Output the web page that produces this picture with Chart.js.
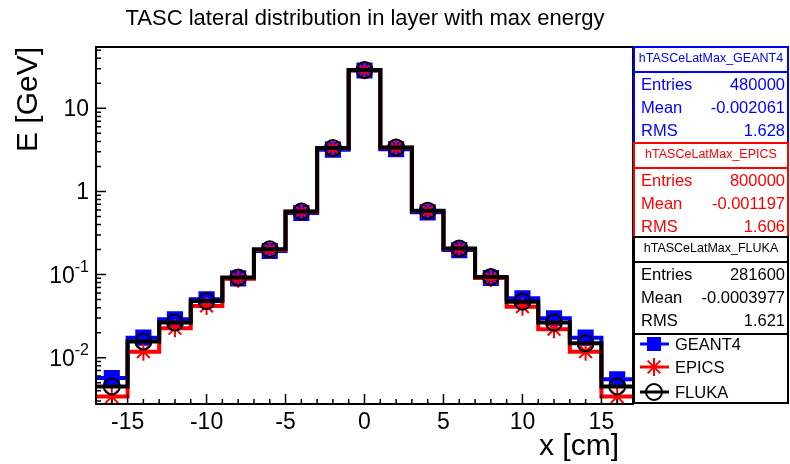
<!DOCTYPE html>
<html>
<head>
<meta charset="utf-8">
<script src="https://cdn.jsdelivr.net/npm/chart.js@4.4.1/dist/chart.umd.min.js"></script>
<style>
  html, body { margin: 0; padding: 0; background: #fff; }
  #wrap { width: 790px; height: 464px; }
</style>
</head>
<body>
<div id="wrap"><canvas id="grafico" width="790" height="464"></canvas></div>
<script>
// bins: 2 cm wide, from -17 to 17
const binEdges = [-17, -15, -13, -11, -9, -7, -5, -3, -1, 1, 3, 5, 7, 9, 11, 13, 15, 17];
const binCenters = [-16, -14, -12, -10, -8, -6, -4, -2, 0, 2, 4, 6, 8, 10, 12, 14, 16];

// energy per bin [GeV]
const geant4 = [0.0057, 0.0174, 0.029, 0.0505, 0.090, 0.192, 0.55, 3.18, 28.5, 3.22, 0.56, 0.197, 0.091, 0.0519, 0.0298, 0.0174, 0.0055];
const epics  = [0.0034, 0.0118, 0.0226, 0.0419, 0.089, 0.198, 0.57, 3.30, 28.7, 3.35, 0.58, 0.203, 0.091, 0.0411, 0.0220, 0.0118, 0.0034];
const fluka  = [0.0045, 0.0156, 0.0264, 0.048, 0.092, 0.201, 0.574, 3.33, 28.9, 3.38, 0.586, 0.206, 0.0935, 0.0472, 0.0264, 0.0149, 0.0045];

const xTickValues = [-15, -10, -5, 0, 5, 10, 15];
const xTickLabels = ['-15', '-10', '-5', '0', '5', '10', '15'];
const yTickValues = [0.01, 0.1, 1, 10];
const yTickBase = ['10', '10', '1', '10'];
const yTickExp  = ['-2', '-1', '', ''];

// stats boxes
const statNames   = ['hTASCeLatMax_GEANT4', 'hTASCeLatMax_EPICS', 'hTASCeLatMax_FLUKA'];
const statEntries = ['480000', '800000', '281600'];
const statMeans   = ['-0.002061', '-0.001197', '-0.0003977'];
const statRms     = ['1.628', '1.606', '1.621'];
const seriesNames = ['GEANT4', 'EPICS', 'FLUKA'];
const seriesColors = ['#0000ff', '#ff0000', '#000000'];

const FONT = "'Liberation Sans', Arial, Helvetica, sans-serif";

function passos(valores) {
    // one point per bin edge, last edge repeats the last bin
    return binEdges.map((x, i) => ({ x: x, y: valores[Math.min(i, valores.length - 1)] }));
}

function pontos(valores) {
    return binCenters.map((x, i) => ({ x: x, y: valores[i] }));
}

function marcador(ctx, estilo, cor, x, y) {
    ctx.save();
    ctx.strokeStyle = cor;
    ctx.fillStyle = cor;
    if (estilo === 'rect') {
        ctx.fillRect(x - 7, y - 7, 14, 14);
    } else if (estilo === 'star') {
        ctx.lineWidth = 2;
        const r = 9, d = r * Math.SQRT1_2;
        ctx.beginPath();
        ctx.moveTo(x - r, y); ctx.lineTo(x + r, y);
        ctx.moveTo(x, y - r); ctx.lineTo(x, y + r);
        ctx.moveTo(x - d, y - d); ctx.lineTo(x + d, y + d);
        ctx.moveTo(x - d, y + d); ctx.lineTo(x + d, y - d);
        ctx.stroke();
    } else {
        ctx.lineWidth = 2;
        ctx.beginPath();
        ctx.arc(x, y, 8, 0, Math.PI * 2);
        ctx.stroke();
    }
    ctx.restore();
}

const rootFrame = {
    id: 'rootFrame',
    afterDraw(chart) {
        const ctx = chart.ctx;
        const a = chart.chartArea;
        const xs = chart.scales.x;
        const ys = chart.scales.y;
        ctx.save();

        // frame
        ctx.strokeStyle = '#000';
        ctx.lineWidth = 2;
        ctx.strokeRect(a.left, a.top, a.right - a.left, a.bottom - a.top);

        // x ticks, inside the frame
        ctx.lineWidth = 1.5;
        ctx.beginPath();
        for (let v = -17; v <= 17; v++) {
            const px = xs.getPixelForValue(v);
            const len = (v % 5 === 0) ? 10 : 5;
            ctx.moveTo(px, a.bottom);
            ctx.lineTo(px, a.bottom - len);
        }
        // y ticks (log)
        for (let d = -3; d <= 1; d++) {
            for (let m = 1; m <= 9; m++) {
                const v = m * Math.pow(10, d);
                if (v < ys.min || v > ys.max) continue;
                const py = ys.getPixelForValue(v);
                const len = (m === 1) ? 10 : 5;
                ctx.moveTo(a.left, py);
                ctx.lineTo(a.left + len, py);
            }
        }
        ctx.stroke();

        // x tick labels
        ctx.fillStyle = '#000';
        ctx.font = '23px ' + FONT;
        ctx.textAlign = 'center';
        ctx.textBaseline = 'alphabetic';
        xTickValues.forEach((v, i) => {
            ctx.fillText(xTickLabels[i], xs.getPixelForValue(v), 429);
        });

        // y tick labels, with exponents
        yTickValues.forEach((v, i) => {
            const py = ys.getPixelForValue(v);
            const right = 89;
            ctx.textAlign = 'right';
            if (yTickExp[i]) {
                ctx.font = '16px ' + FONT;
                ctx.textBaseline = 'alphabetic';
                const w = ctx.measureText(yTickExp[i]).width;
                ctx.fillText(yTickExp[i], right, py - 3);
                ctx.font = '23px ' + FONT;
                ctx.textBaseline = 'middle';
                ctx.fillText(yTickBase[i], right - w, py + 2);
            } else {
                ctx.font = '23px ' + FONT;
                ctx.textBaseline = 'middle';
                ctx.fillText(yTickBase[i], right, py + 1);
            }
        });

        // axis titles
        ctx.font = '30px ' + FONT;
        ctx.textBaseline = 'alphabetic';
        ctx.textAlign = 'right';
        ctx.fillText('x [cm]', 619, 455);
        ctx.save();
        ctx.translate(37, a.top);
        ctx.rotate(-Math.PI / 2);
        ctx.textAlign = 'right';
        ctx.fillText('E [GeV]', 0, 0);
        ctx.restore();

        // title
        ctx.font = '22px ' + FONT;
        ctx.textAlign = 'center';
        ctx.fillText('TASC lateral distribution in layer with max energy', 365, 25);

        // stats boxes
        const bx = 634, bw = 154;
        const tops = [47, 143, 237];
        const heights = [96, 94, 97];
        statNames.forEach((nome, i) => {
            const top = tops[i];
            const cor = seriesColors[i];
            ctx.fillStyle = '#fff';
            ctx.fillRect(bx, top, bw, heights[i]);
            ctx.strokeStyle = cor;
            ctx.lineWidth = 2;
            ctx.strokeRect(bx, top, bw, heights[i]);
            ctx.beginPath();
            ctx.moveTo(bx, top + 25);
            ctx.lineTo(bx + bw, top + 25);
            ctx.stroke();
            ctx.fillStyle = cor;
            ctx.font = '12.5px ' + FONT;
            ctx.textAlign = 'center';
            ctx.textBaseline = 'middle';
            ctx.fillText(nome, bx + bw / 2, top + 12);
            ctx.font = '16.5px ' + FONT;
            const linhas = [['Entries', statEntries[i]], ['Mean', statMeans[i]], ['RMS', statRms[i]]];
            linhas.forEach((l, j) => {
                const y = top + 38 + j * 23;
                ctx.textAlign = 'left';
                ctx.fillText(l[0], bx + 7, y);
                ctx.textAlign = 'right';
                ctx.fillText(l[1], bx + bw - 3, y);
            });
        });

        // legend
        ctx.fillStyle = '#fff';
        ctx.fillRect(bx, 334, bw, 69);
        ctx.strokeStyle = '#000';
        ctx.lineWidth = 2;
        ctx.strokeRect(bx, 334, bw, 69);
        const estilos = ['rect', 'star', 'circle'];
        const ly = [344, 367, 392];
        seriesNames.forEach((nome, i) => {
            ctx.strokeStyle = seriesColors[i];
            ctx.lineWidth = 3;
            ctx.beginPath();
            ctx.moveTo(640, ly[i]);
            ctx.lineTo(669, ly[i]);
            ctx.stroke();
            marcador(ctx, estilos[i], seriesColors[i], 654, ly[i]);
            ctx.fillStyle = '#000';
            ctx.font = '16.5px ' + FONT;
            ctx.textAlign = 'left';
            ctx.textBaseline = 'middle';
            ctx.fillText(nome, 675, ly[i] + 1);
        });

        ctx.restore();
    }
};

function linha(label, valores, cor, ordem) {
    return {
        label: label,
        data: passos(valores),
        borderColor: cor,
        borderWidth: 4,
        stepped: true,
        pointRadius: 0,
        pointHoverRadius: 0,
        fill: false,
        order: ordem
    };
}

function marcas(label, valores, cor, estilo, raio, fundo, ordem) {
    return {
        label: label,
        data: pontos(valores),
        showLine: false,
        pointStyle: estilo,
        pointRadius: raio,
        pointHoverRadius: raio,
        pointBorderWidth: 2,
        borderColor: cor,
        backgroundColor: fundo,
        order: ordem
    };
}

const ctx = document.getElementById('grafico').getContext('2d');
new Chart(ctx, {
    type: 'line',
    data: {
        datasets: [
            marcas('FLUKA', fluka, '#000000', 'circle', 8, 'rgba(0,0,0,0)', 1),
            linha('FLUKA', fluka, '#000000', 2),
            marcas('EPICS', epics, '#ff0000', 'star', 9, '#ff0000', 3),
            linha('EPICS', epics, '#ff0000', 4),
            marcas('GEANT4', geant4, '#0000ff', 'rect', 10, '#0000ff', 5),
            linha('GEANT4', geant4, '#0000ff', 6)
        ]
    },
    options: {
        responsive: false,
        animation: false,
        events: [],
        layout: {
            padding: { left: 96, top: 47, right: 157, bottom: 60 }
        },
        scales: {
            x: { type: 'linear', min: -17, max: 17, display: false },
            y: { type: 'logarithmic', min: 0.00277, max: 54.7, display: false }
        },
        plugins: {
            legend: { display: false },
            tooltip: { enabled: false },
            title: { display: false }
        }
    },
    plugins: [rootFrame]
});
</script>
</body>
</html>
